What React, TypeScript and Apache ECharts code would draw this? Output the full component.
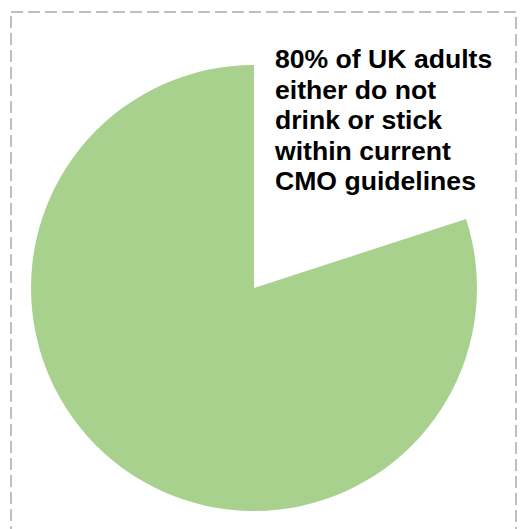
import React, { useEffect, useRef } from "react";
import * as echarts from "echarts";

const categories = ["Drink above CMO guidelines", "Do not drink or stick within CMO guidelines"];
const values = [20, 80];
const colors = ["rgba(0,0,0,0)", "#a9d18e"];
const annotationLines = [
  "80% of UK adults",
  "either do not",
  "drink or stick",
  "within current",
  "CMO guidelines",
];

export default function App() {
  const ref = useRef<HTMLDivElement>(null);
  useEffect(() => {
    const chart = echarts.init(ref.current!, null, { renderer: "svg" });
    chart.setOption({
      animation: false,
      backgroundColor: "#ffffff",
      series: [
        {
          type: "pie",
          center: [254, 288],
          radius: [0, 223],
          startAngle: 90,
          clockwise: true,
          label: { show: false },
          labelLine: { show: false },
          emphasis: { disabled: true },
          silent: true,
          data: categories.map((name, i) => ({
            name,
            value: values[i],
            itemStyle: { color: colors[i] },
          })),
        },
      ],
      graphic: [
        {
          type: "rect",
          shape: { x: 11, y: 12, width: 505, height: 540 },
          style: {
            fill: "none",
            stroke: "#bfbfbf",
            lineWidth: 2,
            lineDash: [12, 5],
          },
          silent: true,
        },
        {
          type: "text",
          x: 275,
          y: 44,
          style: {
            text: annotationLines.join("\n"),
            font: 'bold 26.6px "Liberation Sans", Arial, sans-serif',
            lineHeight: 30.5,
            fill: "#000000",
            textAlign: "left",
            textVerticalAlign: "top",
          },
        },
      ],
    });
    return () => chart.dispose();
  }, []);
  return (
    <div
      ref={ref}
      style={{ position: "fixed", left: 0, top: 0, width: 527, height: 529 }}
    />
  );
}
